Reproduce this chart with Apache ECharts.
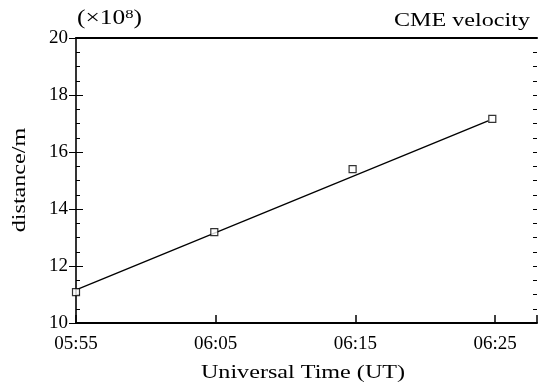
<!DOCTYPE html>
<html>
<head>
<meta charset="utf-8">
<script src="https://cdn.jsdelivr.net/npm/echarts@6/dist/echarts.min.js"></script>
<style>html,body{margin:0;padding:0;background:#fff;}#c{width:540px;height:391px;}</style>
</head>
<body>
<div id="c"></div>
<script>
// minutes after 05:55
var tickMinutes = [0, 10, 20, 30];
var tickLabels = ['05:55', '06:05', '06:15', '06:25'];
var obsMinutes = [0, 9.9, 19.8, 29.8];
var obsDistance = [11.08, 13.19, 15.40, 17.16];   // x 10^8 m
var fitMinutes = [0, 29.5];
var fitDistance = [11.16, 17.09];
var yTicks = [10, 12, 14, 16, 18, 20];

var FONT = 'Liberation Serif';
var SX = 1.27;   // widen serif text to match the wide TeX letterforms
var chart = echarts.init(document.getElementById('c'), null, {renderer: 'canvas'});

function pairs(xs, ys) { return xs.map(function (x, i) { return [x, ys[i]]; }); }
function xLabel(v) {
  for (var i = 0; i < tickMinutes.length; i++) if (Math.abs(tickMinutes[i] - v) < 1e-6) return tickLabels[i];
  return '';
}
var yMin = yTicks[0], yMax = yTicks[yTicks.length - 1];

function tickAxis(pos, interval, len, showLine) {
  return {type: 'value', position: pos, min: yMin, max: yMax, interval: interval,
    axisLine: {show: showLine, lineStyle: {color: '#000', width: 1.6}},
    axisTick: {show: true, inside: true, length: len, lineStyle: {color: '#000', width: 1}},
    axisLabel: {show: false}, splitLine: {show: false}};
}

var yAxes = [
  {type: 'value', position: 'left', min: yMin, max: yMax, interval: 2,
   axisLine: {show: true, lineStyle: {color: '#000', width: 1.6}},
   axisTick: {show: true, inside: true, length: 7, lineStyle: {color: '#000', width: 1}},
   axisLabel: {fontFamily: FONT, fontSize: 19, color: '#000', margin: 8},
   splitLine: {show: false}},
  tickAxis('left', 0.5, 4, false),
  tickAxis('right', 2, 7, false),
  tickAxis('right', 0.5, 4, false)
];

chart.setOption({
  animation: false,
  backgroundColor: '#fff',
  grid: {left: 76, right: 0, top: 38, bottom: 68},
  graphic: [
    {type: 'text', x: 77, y: 19, scaleX: SX, silent: true,
     style: {text: '(×10{sup|8})', fill: '#000', font: '20px "Liberation Serif"',
       textAlign: 'left', textVerticalAlign: 'middle',
       rich: {sup: {fontFamily: FONT, fontSize: 13, verticalAlign: 'top', padding: [0, 0, 9, 0], fill: '#000'}}}},
    {type: 'text', x: 530, y: 21, scaleX: SX, silent: true,
     style: {text: 'CME velocity', fill: '#000', font: '19px "Liberation Serif"',
       textAlign: 'right', textVerticalAlign: 'middle'}},
    {type: 'text', x: 303, y: 373, scaleX: SX, silent: true,
     style: {text: 'Universal Time (UT)', fill: '#000', font: '19px "Liberation Serif"',
       textAlign: 'center', textVerticalAlign: 'middle'}},
    {type: 'text', x: 20, y: 180, rotation: Math.PI / 2, scaleX: SX, silent: true,
     style: {text: 'distance/m', fill: '#000', font: '19px "Liberation Serif"',
       textAlign: 'center', textVerticalAlign: 'middle'}}
  ],
  xAxis: [
    {type: 'value', position: 'bottom', min: 0, max: 33, interval: 10,
     axisLine: {show: true, onZero: false, lineStyle: {color: '#000', width: 2}},
     axisTick: {show: false},
     axisLabel: {fontFamily: FONT, fontSize: 19, color: '#000', margin: 12, formatter: xLabel},
     splitLine: {show: false}},
    {type: 'value', position: 'top', min: 0, max: 33, interval: 10,
     axisLine: {show: true, onZero: false, lineStyle: {color: '#000', width: 2}},
     axisTick: {show: false}, axisLabel: {show: false}, splitLine: {show: false}},
    {type: 'value', position: 'bottom', min: 0, max: 33, interval: 10,
     axisLine: {show: false, onZero: false},
     axisTick: {show: true, inside: true, length: 8, lineStyle: {color: '#000', width: 1.5}},
     axisLabel: {show: false}, splitLine: {show: false}}
  ],
  yAxis: yAxes,
  series: [
    {type: 'line', data: pairs(fitMinutes, fitDistance), showSymbol: false, symbol: 'none',
     lineStyle: {color: '#000', width: 1.3}, silent: true, z: 2},
    {type: 'scatter', data: pairs(obsMinutes, obsDistance), symbol: 'rect', symbolSize: 7,
     itemStyle: {color: '#fff', borderColor: '#000', borderWidth: 1.2}, z: 3}
  ]
});
</script>
</body>
</html>
